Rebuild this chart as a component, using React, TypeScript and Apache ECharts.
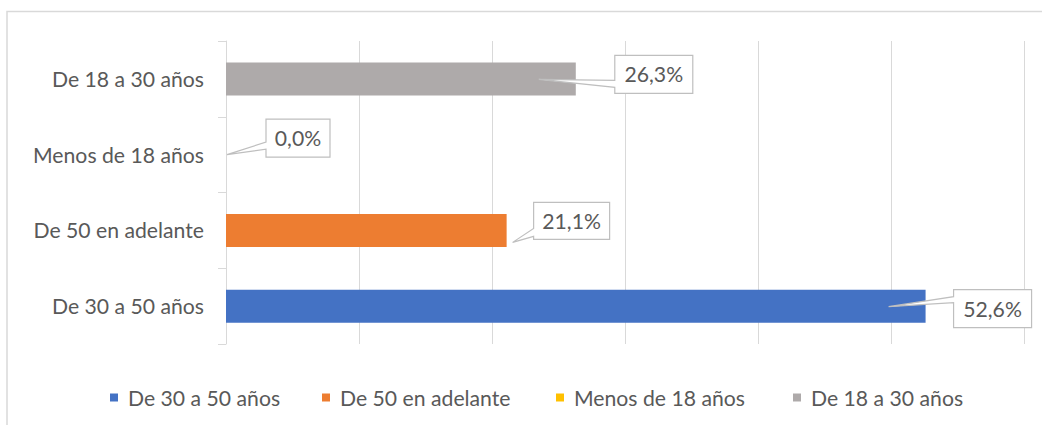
import React, { useEffect, useRef } from "react";
import * as echarts from "echarts";

const categories = ["De 30 a 50 años", "De 50 en adelante", "Menos de 18 años", "De 18 a 30 años"];
const values = [52.6, 21.1, 0.0, 26.3];
const colors = ["#4472C4", "#ED7D31", "#FFC000", "#AEAAAA"];
const xTicks = [0, 10, 20, 30, 40, 50, 60];

// callout box placement relative to bar end (style only)
const callouts = [
  { dx: 28, dy: -16.5, w: 78, h: 38, tx: -37, ty: 0.5, a1: 7, a2: 13 },
  { dx: 27, dy: -28, w: 76, h: 37, tx: 6, ty: 12, a1: 26, a2: 34 },
  { dx: 40, dy: -35.5, w: 64, h: 38, tx: 1, ty: 0, a1: 23, a2: 30 },
  { dx: 39, dy: -23.5, w: 78, h: 38, tx: -37, ty: 0.5, a1: 25, a2: 32 },
];
// legend text box widths (layout only)
const legendTextWidths = [153, 175, 178, 154];

const FONT = "Lato";
const TEXT = "#595959";
const FS = 21.2;

const fmt = (v: number) => v.toFixed(1).replace(".", ",") + "%";

export default function App() {
  const ref = useRef<HTMLDivElement>(null);
  useEffect(() => {
    document.body.style.margin = "0";
    const chart = echarts.init(ref.current!, undefined, { renderer: "svg" });
    const barSeries = categories.map((name, i) => ({
      name,
      type: "bar",
      stack: "all",
      barWidth: 33,
      itemStyle: { color: colors[i] },
      data: categories.map((_, j) => (j === i ? values[i] : "-")),
    }));
    chart.setOption({
      animation: false,
      grid: { left: 226, right: 18, top: 41, bottom: 81, containLabel: false },
      xAxis: {
        type: "value",
        min: xTicks[0],
        max: xTicks[xTicks.length - 1],
        interval: 10,
        axisLabel: { show: false },
        axisLine: { show: false },
        axisTick: { show: false },
        splitLine: { lineStyle: { color: "#d9d9d9", width: 1 } },
      },
      yAxis: {
        type: "category",
        data: categories,
        axisLine: { show: true, lineStyle: { color: "#d9d9d9", width: 1 } },
        axisTick: { show: true, length: 8, lineStyle: { color: "#d9d9d9" } },
        axisLabel: { color: TEXT, fontFamily: FONT, fontSize: FS, margin: 22 },
      },
      legend: {
        data: categories.map((name, i) => ({
          name,
          textStyle: { width: legendTextWidths[i] },
        })),
        left: 110,
        top: 387,
        padding: 0,
        itemWidth: 8,
        itemHeight: 8,
        itemGap: 41,
        icon: "rect",
        textStyle: { color: TEXT, fontFamily: FONT, fontSize: FS, padding: [0, 0, 0, 5], lineHeight: 20 },
      },
      graphic: [
        {
          type: "rect",
          shape: { x: 7, y: 11.5, width: 1200, height: 600 },
          style: { fill: "none", stroke: "#d9d9d9", lineWidth: 1.5 },
          silent: true,
          z: -10,
        },
      ],
      series: [
        ...barSeries,
        {
          type: "custom",
          name: "callouts",
          clip: false,
          z: 10,
          encode: { x: 0, y: 1 },
          data: values.map((v, i) => [v, i]),
          renderItem: (params: any, api: any) => {
            const idx = params.dataIndex;
            const v = api.value(0);
            const c = api.value(1);
            const end = api.coord([v, c]);
            const o = callouts[idx];
            const bx = end[0] + o.dx;
            const by = end[1] + o.dy;
            const tip = [end[0] + o.tx, end[1] + o.ty];
            const pts = [
              [bx, by],
              [bx + o.w, by],
              [bx + o.w, by + o.h],
              [bx, by + o.h],
              [bx, by + o.a2],
              tip,
              [bx, by + o.a1],
            ];
            return {
              type: "group",
              children: [
                {
                  type: "polygon",
                  shape: { points: pts },
                  style: { fill: "#ffffff", stroke: "#bfbfbf", lineWidth: 1.2 },
                },
                {
                  type: "text",
                  style: {
                    text: fmt(v),
                    x: bx + o.w / 2,
                    y: by + o.h / 2,
                    align: "center",
                    verticalAlign: "middle",
                    textAlign: "center",
                    textVerticalAlign: "middle",
                    fill: TEXT,
                    font: `${FS}px ${FONT}`,
                  },
                },
              ],
            };
          },
        },
      ],
    });
    return () => chart.dispose();
  }, []);
  return <div ref={ref} style={{ width: 1042, height: 425 }} />;
}
